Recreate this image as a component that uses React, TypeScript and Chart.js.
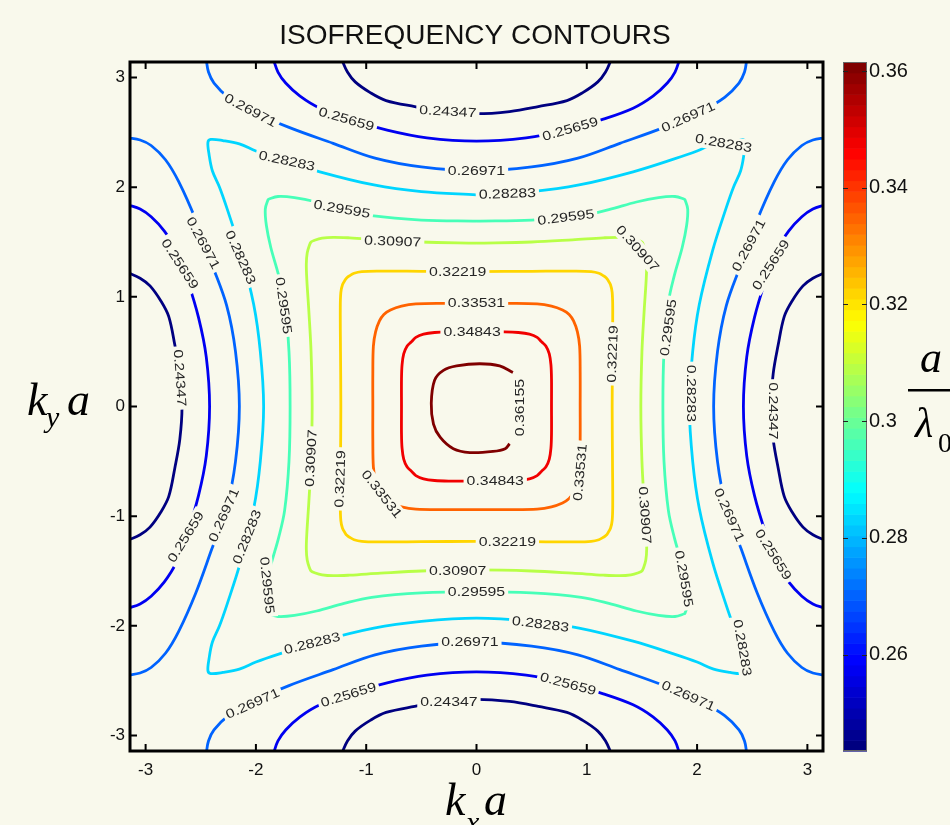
import React, { useEffect, useRef } from "react";
import { Chart, registerables } from "chart.js";
Chart.register(...registerables);

type P = [number, number];

const TITLE = "ISOFREQUENCY CONTOURS";
const PI = Math.PI;
const X_TICKS = [-3, -2, -1, 0, 1, 2, 3];
const Y_TICKS = [-3, -2, -1, 0, 1, 2, 3];
const CB_TICKS = [0.26, 0.28, 0.3, 0.32, 0.34, 0.36];
const CB_MIN = 0.24347;
const CB_MAX = 0.36155;
const LEVELS = [0.24347, 0.25659, 0.26971, 0.28283, 0.29595, 0.30907, 0.32219, 0.33531, 0.34843, 0.36155];

// Edge arcs (half of the top arc, from kx=0 to the plot edge), in (kx a, ky a)
const ARC_24347: P[] = [[0, 2.67], [0.3, 2.69], [0.56, 2.735], [0.82, 2.79], [0.96, 2.86], [1.1, 2.96], [1.17, 3.05], [1.22, 3.16]];
const ARC_25659: P[] = [[0, 2.42], [0.45, 2.45], [0.81, 2.52], [1.15, 2.62], [1.42, 2.72], [1.6, 2.83], [1.73, 2.95], [1.8, 3.05], [1.84, 3.16]];
const ARC_26971: P[] = [[0, 2.15], [0.5, 2.185], [0.92, 2.265], [1.3, 2.4], [1.7, 2.545], [2.05, 2.7], [2.25, 2.82], [2.38, 2.95], [2.43, 3.05], [2.45, 3.16]];

// Closed contours: one octant, from the top centre to the diagonal
const LOOP_28283: P[] = [[0, 1.93], [0.5, 1.96], [0.93, 2.02], [1.42, 2.14], [1.8, 2.26], [2.0, 2.33], [2.15, 2.395], [2.3, 2.425], [2.41, 2.435]];
const LOOP_29595: P[] = [[0, 1.69], [0.5, 1.7], [0.95, 1.74], [1.2, 1.795], [1.45, 1.865], [1.65, 1.905], [1.8, 1.915], [1.885, 1.89]];
const LOOP_30907: P[] = [[0, 1.49], [0.5, 1.5], [0.87, 1.52], [1.15, 1.538], [1.3, 1.543], [1.4, 1.535], [1.47, 1.515], [1.5, 1.5]];
const LOOP_32219: P[] = [[0, 1.23], [0.5, 1.233], [0.9, 1.235], [1.04, 1.23], [1.11, 1.215], [1.155, 1.19], [1.175, 1.175]];
const LOOP_33531: P[] = [[0, 0.94], [0.3, 0.94], [0.55, 0.935], [0.68, 0.915], [0.78, 0.88], [0.84, 0.84]];
const LOOP_34843: P[] = [[0, 0.68], [0.25, 0.68], [0.38, 0.675], [0.48, 0.66], [0.55, 0.63], [0.59, 0.59]];
// innermost contour (open where its label sits)
const LINE_36155: P[] = [[0.33, 0.31], [0.21, 0.37], [0.03, 0.39], [-0.18, 0.37], [-0.3, 0.33], [-0.38, 0.24], [-0.41, 0.03], [-0.39, -0.16], [-0.33, -0.28], [-0.21, -0.385], [-0.06, -0.42], [0.15, -0.41], [0.26, -0.385], [0.3, -0.34]];

// Contour labels: [level index, kx a, ky a, angle in degrees]
const LABELS: [number, number, number, number][] = [
  [2, -2.05, 2.7, 28], [1, -1.18, 2.62, 16], [0, -0.26, 2.69, 3], [1, 0.85, 2.53, -16], [2, 1.92, 2.64, -24],
  [3, -1.72, 2.24, 12], [2, 0, 2.15, 0], [3, 2.24, 2.4, 10], [3, 0.28, 1.94, -2], [4, -1.22, 1.8, 10],
  [4, 0.81, 1.725, -7], [5, -0.76, 1.505, 2], [5, 1.46, 1.44, 48], [6, -0.17, 1.23, 0], [7, 0, 0.94, 0],
  [8, -0.04, 0.68, 0], [9, 0.39, -0.01, -90], [6, 1.235, 0.48, -88], [8, 0.17, -0.68, 0], [7, 0.94, -0.6, -85],
  [7, -0.86, -0.8, 52], [6, -1.235, -0.66, -88], [1, -2.69, 1.3, 57], [2, -2.48, 1.49, 62], [3, -2.14, 1.36, 66],
  [4, -1.75, 0.92, 82], [0, -2.69, 0.26, 86], [5, -1.5, -0.47, -87], [4, -1.9, -1.63, 84], [3, -2.08, -1.19, -68],
  [2, -2.29, -0.99, -66], [1, -2.635, -1.19, -58], [4, 0, -1.69, 0], [5, -0.17, -1.495, 0], [6, 0.28, -1.233, 0],
  [3, -1.49, -2.16, -14], [2, -2.03, -2.71, -24], [1, -1.16, -2.63, -17], [2, -0.06, -2.15, 0], [0, -0.25, -2.69, 0],
  [3, 0.58, -1.985, 7], [1, 0.83, -2.53, 15], [2, 1.92, -2.64, 24], [4, 1.88, -1.57, 80], [5, 1.525, -0.99, 86],
  [4, 1.74, 0.72, -82], [2, 2.47, 1.47, -62], [1, 2.67, 1.29, -57], [0, 2.69, -0.04, 90], [3, 1.95, 0.12, 90],
  [2, 2.29, -0.99, 66], [1, 2.69, -1.35, 58], [3, 2.41, -2.2, 80],
];

const CREAM = "#f9f9ec";
const SANS = '"Liberation Sans", Arial, Helvetica, sans-serif';
const SERIF = '"Liberation Serif", "Times New Roman", serif';
const LABEL_HSCALE = 1.22;

function jet(t: number): string {
  const c = (v: number) => Math.round(255 * Math.max(0, Math.min(1, v)));
  return `rgb(${c(1.5 - Math.abs(4 * t - 3))},${c(1.5 - Math.abs(4 * t - 2))},${c(1.5 - Math.abs(4 * t - 1))})`;
}
const levelColor = (v: number) => jet((v - CB_MIN) / (CB_MAX - CB_MIN));

function dedupe(a: P[]): P[] {
  return a.filter((p, i) => i === 0 || Math.abs(p[0] - a[i - 1][0]) > 1e-9 || Math.abs(p[1] - a[i - 1][1]) > 1e-9);
}
function loopFromOctant(o: P[]): P[] {
  const q1: P[] = [...o, ...o.map(([x, y]) => [y, x] as P).reverse()];
  const q4 = [...q1].reverse().map(([x, y]) => [x, -y] as P);
  const q3 = q1.map(([x, y]) => [-x, -y] as P);
  const q2 = [...q1].reverse().map(([x, y]) => [-x, y] as P);
  return dedupe([...q1, ...q4, ...q3, ...q2]);
}
function arcsFromHalf(h: P[]): P[][] {
  const top = dedupe([...h.map(([x, y]) => [-x, y] as P).reverse(), ...h]);
  return [top, top.map(([x, y]) => [x, -y] as P), top.map(([x, y]) => [y, x] as P), top.map(([x, y]) => [-y, x] as P)];
}

function buildDatasets() {
  const list: { level: number; pts: P[] }[] = [];
  [[0, ARC_24347], [1, ARC_25659], [2, ARC_26971]].forEach(([li, h]) => {
    arcsFromHalf(h as P[]).forEach((pts) => list.push({ level: li as number, pts }));
  });
  [[3, LOOP_28283], [4, LOOP_29595], [5, LOOP_30907], [6, LOOP_32219], [7, LOOP_33531], [8, LOOP_34843]].forEach(([li, o]) => {
    list.push({ level: li as number, pts: loopFromOctant(o as P[]) });
  });
  list.push({ level: 9, pts: LINE_36155 });
  return list.map(({ level, pts }) => ({
    label: LEVELS[level].toFixed(5),
    data: pts.map(([x, y]) => ({ x, y })),
    showLine: true,
    borderColor: levelColor(LEVELS[level]),
    backgroundColor: levelColor(LEVELS[level]),
    borderWidth: 2.8,
    pointRadius: 0,
    tension: 0.35,
    fill: false,
  }));
}

const decor = {
  id: "decor",
  beforeDraw(chart: any) {
    const { ctx, width, height } = chart;
    ctx.save();
    ctx.fillStyle = CREAM;
    ctx.fillRect(0, 0, width, height);
    ctx.restore();
  },
  afterDatasetsDraw(chart: any) {
    const { ctx, chartArea: ca, scales } = chart;
    ctx.save();
    ctx.beginPath();
    ctx.rect(ca.left, ca.top, ca.right - ca.left, ca.bottom - ca.top);
    ctx.clip();
    ctx.font = `13px ${SANS}`;
    for (const [li, x, y, ang] of LABELS) {
      const px = scales.x.getPixelForValue(x);
      const py = scales.y.getPixelForValue(y);
      const txt = LEVELS[li].toFixed(5);
      const w = ctx.measureText(txt).width * LABEL_HSCALE;
      ctx.save();
      ctx.translate(px, py);
      ctx.rotate((ang * Math.PI) / 180);
      ctx.fillStyle = CREAM;
      ctx.fillRect(-w / 2 - 3, -8, w + 6, 16);
      ctx.scale(LABEL_HSCALE, 1);
      ctx.fillStyle = "#262626";
      ctx.textAlign = "center";
      ctx.textBaseline = "middle";
      ctx.fillText(txt, 0, 0.5);
      ctx.restore();
    }
    ctx.restore();
  },
  afterDraw(chart: any) {
    const { ctx, chartArea: ca, scales } = chart;
    const xs = scales.x, ys = scales.y, yc = scales.yc;
    ctx.save();
    // inward ticks
    ctx.strokeStyle = "#000";
    ctx.lineWidth = 2;
    ctx.beginPath();
    for (const v of X_TICKS) {
      const px = xs.getPixelForValue(v);
      ctx.moveTo(px, ca.bottom); ctx.lineTo(px, ca.bottom - 7);
      ctx.moveTo(px, ca.top); ctx.lineTo(px, ca.top + 7);
    }
    for (const v of Y_TICKS) {
      const py = ys.getPixelForValue(v);
      ctx.moveTo(ca.left, py); ctx.lineTo(ca.left + 7, py);
      ctx.moveTo(ca.right, py); ctx.lineTo(ca.right - 7, py);
    }
    ctx.stroke();
    // frame
    ctx.lineWidth = 3;
    ctx.strokeRect(ca.left, ca.top, ca.right - ca.left, ca.bottom - ca.top);

    // colorbar (jet, 64 steps)
    const cbL = ca.right + 20, cbW = 24;
    const n = 64;
    for (let i = 0; i < n; i++) {
      const v0 = CB_MIN + ((CB_MAX - CB_MIN) * i) / n;
      const v1 = CB_MIN + ((CB_MAX - CB_MIN) * (i + 1)) / n;
      const y0 = yc.getPixelForValue(v0), y1 = yc.getPixelForValue(v1);
      ctx.fillStyle = jet(i / (n - 1));
      ctx.fillRect(cbL, y1, cbW, y0 - y1 + 0.6);
    }
    const cbTop = yc.getPixelForValue(CB_MAX), cbBot = yc.getPixelForValue(CB_MIN);
    ctx.strokeStyle = "#666";
    ctx.lineWidth = 1;
    ctx.strokeRect(cbL + 0.5, cbTop + 0.5, cbW - 1, cbBot - cbTop - 1);
    ctx.strokeStyle = "#222";
    ctx.lineWidth = 1.2;
    ctx.beginPath();
    for (const v of CB_TICKS) {
      const py = Math.round(yc.getPixelForValue(v)) + 0.5;
      ctx.moveTo(cbL, py); ctx.lineTo(cbL + 5, py);
      ctx.moveTo(cbL + cbW - 5, py); ctx.lineTo(cbL + cbW, py);
    }
    ctx.stroke();

    // axis titles
    ctx.fillStyle = "#000";
    ctx.textBaseline = "alphabetic";
    ctx.textAlign = "left";
    ctx.font = `italic 46px ${SERIF}`;
    ctx.fillText("k", 27, 415);
    ctx.fillText("a", 67, 415);
    ctx.font = `italic 30px ${SERIF}`;
    ctx.fillText("y", 46, 427);
    ctx.font = `italic 46px ${SERIF}`;
    ctx.fillText("k", 445, 815);
    ctx.fillText("a", 484, 815);
    ctx.font = `italic 30px ${SERIF}`;
    ctx.fillText("x", 466, 832);
    // colorbar title a / lambda0
    ctx.font = `italic 44px ${SERIF}`;
    ctx.fillText("a", 920, 372);
    ctx.fillRect(908, 389, 45, 2.5);
    ctx.font = `italic 42px ${SERIF}`;
    ctx.fillText("\u03bb", 915, 437);
    ctx.font = `28px ${SERIF}`;
    ctx.fillText("0", 938, 452);
    ctx.restore();
  },
};

export default function App() {
  const ref = useRef<HTMLCanvasElement | null>(null);
  useEffect(() => {
    if (!ref.current) return;
    Chart.defaults.font.family = SANS;
    const tickFont = { family: SANS, size: 17 };
    const chart = new Chart(ref.current, {
      type: "scatter",
      data: { datasets: buildDatasets() as any },
      options: {
        animation: false,
        responsive: false,
        maintainAspectRatio: false,
        events: [],
        layout: { padding: 0 },
        plugins: {
          legend: { display: false },
          tooltip: { enabled: false },
          title: {
            display: true,
            text: TITLE,
            color: "#111",
            font: { family: SANS, size: 28, weight: "normal" as any, lineHeight: 1.2 },
            padding: { top: 19, bottom: 62 - 33.6 - 19 },
          },
        },
        scales: {
          x: {
            type: "linear",
            position: "bottom",
            min: -PI,
            max: PI,
            afterBuildTicks: (s: any) => { s.ticks = X_TICKS.map((v) => ({ value: v })); },
            afterFit: (s: any) => { s.height = 74; },
            grid: { display: false, drawTicks: false },
            border: { display: false },
            ticks: { color: "#111", font: tickFont, padding: 9, maxRotation: 0, autoSkip: false, callback: (v: any) => String(v) },
          },
          y: {
            type: "linear",
            position: "left",
            min: -PI,
            max: PI,
            afterBuildTicks: (s: any) => { s.ticks = Y_TICKS.map((v) => ({ value: v })); },
            afterFit: (s: any) => { s.width = 130; },
            grid: { display: false, drawTicks: false },
            border: { display: false },
            ticks: { color: "#111", font: tickFont, padding: 5, autoSkip: false, callback: (v: any) => String(v) },
          },
          yc: {
            type: "linear",
            position: "right",
            min: CB_MIN,
            max: CB_MAX,
            afterBuildTicks: (s: any) => { s.ticks = CB_TICKS.map((v) => ({ value: v })); },
            afterFit: (s: any) => { s.width = 127; },
            grid: { display: false, drawTicks: false },
            border: { display: false },
            ticks: { color: "#111", font: { family: SANS, size: 20 }, padding: 46, autoSkip: false, callback: (v: any) => String(v) },
          },
        },
      },
      plugins: [decor],
    });
    return () => chart.destroy();
  }, []);
  return (
    <div style={{ position: "absolute", left: 0, top: 0, width: 950, height: 825, background: CREAM, overflow: "hidden" }}>
      <canvas ref={ref} width={950} height={825} style={{ display: "block" }} />
    </div>
  );
}
